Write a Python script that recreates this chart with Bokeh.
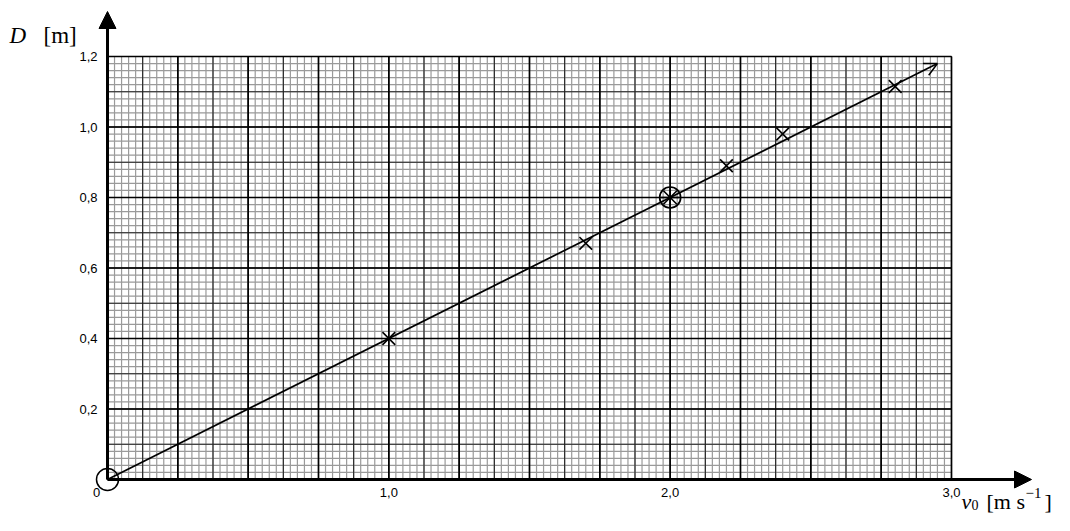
import numpy as np
from bokeh.plotting import figure
from bokeh.models import Range1d, Arrow, OpenHead, NormalHead
from bokeh.core.properties import value
from bokeh.embed import file_html
from bokeh.resources import INLINE

# ---- data ----
v0 = [1.0, 1.7, 2.2, 2.4, 2.8]
D = [0.40, 0.67, 0.89, 0.98, 1.115]
ref_v0 = [2.0]
ref_D = [0.80]
fit_x = [0.0, 2.95]
fit_y = [0.0, 1.18]

x_ticks = [1.0, 2.0, 3.0]
x_tick_labels = ["1,0", "2,0", "3,0"]
y_ticks = [0.2, 0.4, 0.6, 0.8, 1.0, 1.2]
y_tick_labels = ["0,2", "0,4", "0,6", "0,8", "1,0", "1,2"]

X_MAX = 3.0
Y_MAX = 1.2

# ---- layout (pixel scale) ----
W, H = 1054, 515
PX_X = 281.33   # px per unit x
PX_Y = 352.5    # px per unit y
ORIG_X = 107
ORIG_Y = 479

x0 = -ORIG_X / PX_X
x1 = (W - ORIG_X) / PX_X
y0 = -(H - ORIG_Y) / PX_Y
y1 = ORIG_Y / PX_Y

def dx(px):
    return (px - ORIG_X) / PX_X

def dy(py):
    return (ORIG_Y - py) / PX_Y

p = figure(width=W, height=H, x_range=Range1d(x0, x1), y_range=Range1d(y0, y1),
           output_backend="svg", toolbar_location=None, x_axis_type=None, y_axis_type=None,
           min_border=0, outline_line_color=None)
p.xgrid.visible = False
p.ygrid.visible = False

def vlines(xs, color, w):
    p.segment(x0=xs, y0=[0] * len(xs), x1=xs, y1=[Y_MAX] * len(xs), line_color=color, line_width=w)

def hlines(ys, color, w):
    p.segment(x0=[0] * len(ys), y0=ys, x1=[X_MAX] * len(ys), y1=ys, line_color=color, line_width=w)

minor_x = list(np.round(np.arange(0, X_MAX + 1e-9, 0.025), 4))
minor_y = list(np.round(np.arange(0, Y_MAX + 1e-9, 0.02), 4))
med_x = list(np.round(np.arange(0, X_MAX + 1e-9, 0.125), 4))
med_y = list(np.round(np.arange(0, Y_MAX + 1e-9, 0.1), 4))
maj_x = list(np.round(np.arange(0, X_MAX + 1e-9, 0.25), 4))
maj_y = list(np.round(np.arange(0, Y_MAX + 1e-9, 0.2), 4))

vlines(minor_x, "#9a9a9a", 1.2)
hlines(minor_y, "#9a9a9a", 1.2)
vlines(med_x, "#222222", 1.1)
hlines(med_y, "#222222", 1.1)
vlines(maj_x, "#000000", 1.6)
hlines(maj_y, "#000000", 1.6)

# axes with arrows
p.add_layout(Arrow(end=NormalHead(size=17, fill_color="black", line_color="black"),
                   x_start=0, y_start=0, x_end=0, y_end=dy(11), line_width=3, line_color="black"))
p.add_layout(Arrow(end=NormalHead(size=17, fill_color="black", line_color="black"),
                   x_start=0, y_start=0, x_end=dx(1031), y_end=0, line_width=3, line_color="black"))

# fit line with open arrow
p.add_layout(Arrow(end=OpenHead(size=13, line_width=1.5, line_color="black"),
                   x_start=fit_x[0], y_start=fit_y[0], x_end=fit_x[1], y_end=fit_y[1],
                   line_width=1.7, line_color="black"))

# data points
p.scatter(v0, D, marker="x", size=18, line_width=1.6, line_color="black")
p.scatter(ref_v0, ref_D, marker="circle", size=21, line_width=1.7, line_color="black", fill_color=None)
p.scatter(ref_v0, ref_D, marker="asterisk", size=19, line_width=1.6, line_color="black")
# origin circle
p.scatter([0], [0], marker="circle", size=22, line_width=1.5, line_color="black", fill_color=None)

# tick labels
tick_font = value("Liberation Sans")
p.text(x=[0] * len(y_ticks), y=y_ticks, text=y_tick_labels, x_offset=-10,
       text_align="right", text_baseline="middle", text_font=tick_font,
       text_font_size="13px", text_color="black")
p.text(x=x_ticks, y=[0] * len(x_ticks), text=x_tick_labels, y_offset=13,
       text_align="center", text_baseline="middle", text_font=tick_font,
       text_font_size="13px", text_color="black")
p.text(x=[0], y=[0], text=["0"], x_offset=-11, y_offset=13,
       text_align="center", text_baseline="middle", text_font=tick_font,
       text_font_size="13px", text_color="black")

serif = value("Liberation Serif")
# y axis label
p.text(x=[dx(9)], y=[dy(35)], text=["D"], text_font=serif, text_font_style="italic",
       text_font_size="23px", text_align="left", text_baseline="alphabetic")
p.text(x=[dx(43)], y=[dy(35)], text=["[m]"], text_font=serif,
       text_font_size="23px", text_align="left", text_baseline="alphabetic")

# x axis label (kept inside the figure's bottom/right edges)
BASE = 501
p.text(x=[dx(961)], y=[dy(BASE)], text=["v"], text_font=serif, text_font_style="italic",
       text_font_size="22px", text_align="left", text_baseline="alphabetic")
p.text(x=[dx(971)], y=[dy(BASE + 3)], text=["0"], text_font=serif,
       text_font_size="14px", text_align="left", text_baseline="alphabetic")
p.text(x=[dx(986)], y=[dy(BASE)], text=["[m s"], text_font=serif,
       text_font_size="22px", text_align="left", text_baseline="alphabetic")
p.text(x=[dx(1025)], y=[dy(BASE - 9)], text=["\u22121"], text_font=serif,
       text_font_size="15px", text_align="left", text_baseline="alphabetic")
p.text(x=[dx(1044)], y=[dy(BASE)], text=["]"], text_font=serif,
       text_font_size="22px", text_align="left", text_baseline="alphabetic")

open("out.html", "w").write(file_html(p, INLINE))
